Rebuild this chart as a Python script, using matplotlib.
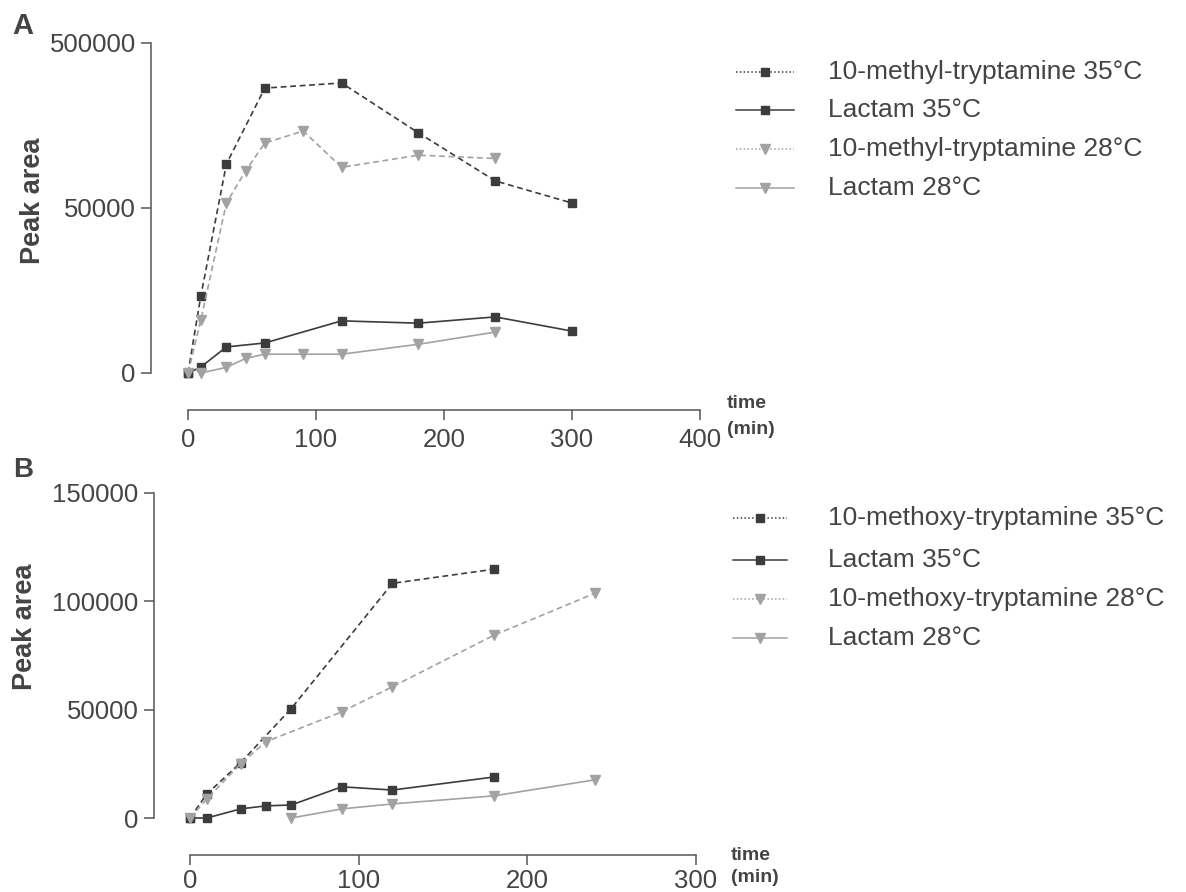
import matplotlib
matplotlib.use('Agg')
import matplotlib.pyplot as plt
from matplotlib.lines import Line2D
import numpy as np

plt.rcParams['font.family'] = ['Liberation Sans', 'DejaVu Sans']

# ---- data, panel A (10-methyl-tryptamine) ----
a_t_m35 = [0, 10, 30, 60, 120, 180, 240, 300]
a_v_m35 = [0, 23300, 170000, 377000, 391000, 255000, 124000, 63500]
a_t_l35 = [0, 10, 30, 60, 120, 180, 240, 300]
a_v_l35 = [0, 1800, 7900, 9100, 15800, 15100, 17000, 12700]
a_t_m28 = [0, 10, 30, 45, 60, 90, 120, 180, 240]
a_v_m28 = [0, 16000, 63500, 151000, 227000, 260000, 161000, 194000, 185000]
a_t_l28 = [10, 30, 45, 60, 90, 120, 180, 240]
a_v_l28 = [0, 1700, 4400, 5700, 5700, 5700, 8700, 12400]
a_labels = ['10-methyl-tryptamine 35°C', 'Lactam 35°C',
            '10-methyl-tryptamine 28°C', 'Lactam 28°C']
a_yticks = [0, 50000, 500000]
a_xticks = [0, 100, 200, 300, 400]

# ---- data, panel B (10-methoxy-tryptamine) ----
b_t_m35 = [0, 10, 30, 60, 120, 180]
b_v_m35 = [0, 11100, 25500, 50500, 108300, 114800]
b_t_l35 = [0, 10, 30, 45, 60, 90, 120, 180]
b_v_l35 = [0, 0, 4200, 5600, 6000, 14400, 12900, 18900]
b_t_m28 = [0, 10, 30, 45, 90, 120, 180, 240]
b_v_m28 = [0, 8800, 25000, 35200, 49000, 60600, 84300, 103700]
b_t_l28 = [60, 90, 120, 180, 240]
b_v_l28 = [0, 4200, 6500, 10200, 17600]
b_labels = ['10-methoxy-tryptamine 35°C', 'Lactam 35°C',
            '10-methoxy-tryptamine 28°C', 'Lactam 28°C']
b_yticks = [0, 50000, 100000, 150000]
b_xticks = [0, 100, 200, 300]

DARK = '#3c3c3c'
GREY = '#a2a2a2'
AXC = '#555555'
TXT = '#444444'
W, H = 1186, 892

# (color, marker, dashed?)
styles = [(DARK, 's', True), (DARK, 's', False), (GREY, 'v', True), (GREY, 'v', False)]


def split_fwd(y):
  # two linear segments: 0-50000 on the lower half, 50000-500000 on the upper half
  y = np.asarray(y, dtype=float)
  return np.where(y <= 5e4, y / 5e4, 1 + (y - 5e4) / 4.5e5)


def split_inv(t):
  t = np.asarray(t, dtype=float)
  return np.where(t <= 1, t * 5e4, 5e4 + (t - 1) * 4.5e5)


def px_axes(fig, x0, x1, y0, y1):
  # x0,x1 left/right pixel; y0 bottom pixel, y1 top pixel (from top of image)
  return fig.add_axes([x0 / W, 1 - y0 / H, (x1 - x0) / W, (y0 - y1) / H])


def style_axes(ax, xticks, yticks, xmax, ymax, off_l, off_b, xpad):
  for s in ['top', 'right']:
    ax.spines[s].set_visible(False)
  ax.spines['left'].set_position(('outward', off_l * 72 / 100))
  ax.spines['bottom'].set_position(('outward', off_b * 72 / 100))
  for s in ['left', 'bottom']:
    ax.spines[s].set_color(AXC)
    ax.spines[s].set_linewidth(1.1)
  ax.set_xlim(0, xmax)
  ax.set_ylim(0, ymax)
  ax.spines['left'].set_bounds(0, ymax)
  ax.spines['bottom'].set_bounds(0, xmax)
  ax.set_xticks(xticks)
  ax.set_xticklabels([str(v) for v in xticks])
  ax.set_yticks(yticks)
  ax.set_yticklabels([str(v) for v in yticks])
  ax.minorticks_off()
  ax.tick_params(direction='out', length=7, width=1.1, color=AXC,
                 labelsize=18.5, labelcolor=TXT, pad=4)
  ax.tick_params(axis='x', pad=xpad)
  ax.patch.set_visible(False)


def draw_series(ax, series):
  for (t, v), (c, m, dashed) in zip(series, styles):
    ls = (0, (3.5, 2.2)) if dashed else '-'
    ms = 6 if m == 's' else 7
    ax.plot(t, v, color=c, ls=ls, lw=1.2, marker=m, ms=ms, mfc=c, mec=c,
            clip_on=False)


def draw_legend(fig, labels, xl0, xl1, xtext, rows):
  for lab, y, (c, m, dashed) in zip(labels, rows, styles):
    yf = 1 - y / H
    ls = (0, (1, 1.5)) if dashed else '-'
    fig.add_artist(Line2D([xl0 / W, xl1 / W], [yf, yf], transform=fig.transFigure,
                          color=c, lw=1.1, ls=ls))
    ms = 6 if m == 's' else 7
    fig.add_artist(Line2D([(xl0 + xl1) / 2 / W], [yf], transform=fig.transFigure,
                          color=c, marker=m, ms=ms, ls='none'))
    fig.text(xtext / W, yf, lab, fontsize=19, color=TXT, va='center', ha='left')


fig = plt.figure(figsize=(W / 100, H / 100), dpi=100)

# ---- panel A ----
axA = px_axes(fig, 188, 700, 373, 43)
axA.set_yscale('function', functions=(split_fwd, split_inv))
style_axes(axA, a_xticks, a_yticks, 400, 500000, 37, 37, 6)
draw_series(axA, [(a_t_m35, a_v_m35), (a_t_l35, a_v_l35),
                  (a_t_m28, a_v_m28), (a_t_l28, a_v_l28)])
draw_legend(fig, a_labels, 736, 794, 828, [72, 110, 149, 188])

fig.text(33 / W, 1 - 201 / H, 'Peak area', rotation=90, fontsize=19.5,
         fontweight='bold', color=TXT, ha='center', va='center')
fig.text(12 / W, 1 - 26 / H, 'A', fontsize=21, fontweight='bold', color=TXT,
         ha='left', va='center')
fig.text(727 / W, 1 - 404 / H, 'time', fontsize=14, fontweight='bold',
         color=TXT, ha='left', va='center')
fig.text(727 / W, 1 - 429 / H, '(min)', fontsize=14, fontweight='bold',
         color=TXT, ha='left', va='center')

# ---- panel B ----
axB = px_axes(fig, 190, 696, 818, 493)
style_axes(axB, b_xticks, b_yticks, 300, 150000, 36, 37, 3)
draw_series(axB, [(b_t_m35, b_v_m35), (b_t_l35, b_v_l35),
                  (b_t_m28, b_v_m28), (b_t_l28, b_v_l28)])
draw_legend(fig, b_labels, 733, 787, 828, [518, 560, 599, 638])

fig.text(25 / W, 1 - 627 / H, 'Peak area', rotation=90, fontsize=19.5,
         fontweight='bold', color=TXT, ha='center', va='center')
fig.text(13 / W, 1 - 470 / H, 'B', fontsize=20, fontweight='bold', color=TXT,
         ha='left', va='center')
fig.text(731 / W, 1 - 855 / H, 'time', fontsize=14, fontweight='bold',
         color=TXT, ha='left', va='center')
fig.text(731 / W, 1 - 877 / H, '(min)', fontsize=14, fontweight='bold',
         color=TXT, ha='left', va='center')

plt.savefig('out.png', dpi=100)
plt.close(fig)
